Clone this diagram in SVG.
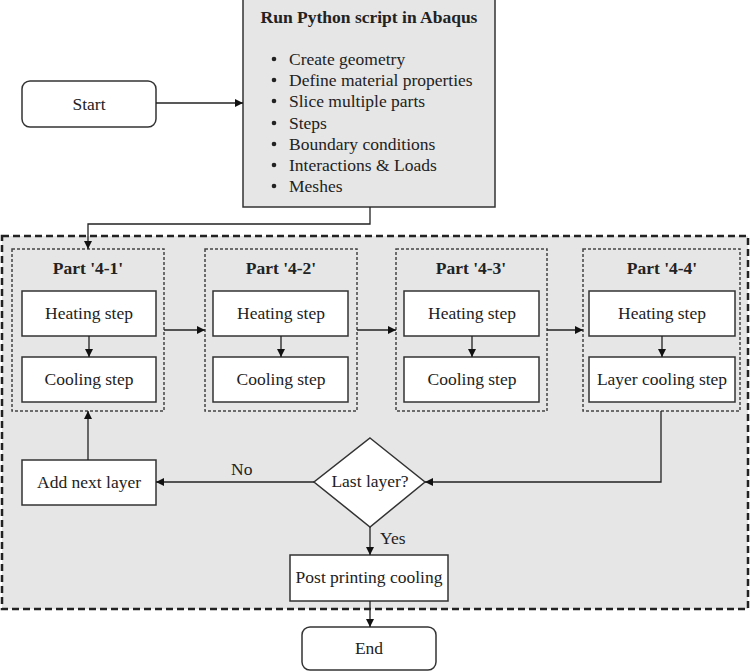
<svg xmlns="http://www.w3.org/2000/svg" width="750" height="672" viewBox="0 0 750 672" font-family="'Liberation Serif', 'DejaVu Serif', serif">
<defs>
<marker id="ah" viewBox="0 0 10 10" refX="10" refY="5" markerWidth="8" markerHeight="8" markerUnits="userSpaceOnUse" orient="auto">
<path d="M0,0 L10,5 L0,10 Z" fill="#111"/>
</marker>
<style>
text{font-family:'Liberation Serif','DejaVu Serif',serif;font-size:17.5px;fill:#222}
.c{text-anchor:middle}
.b{font-weight:bold}
.box{fill:#fff;stroke:#333;stroke-width:1.5}
.part{fill:none;stroke:#444;stroke-width:1.5;stroke-dasharray:3 2}
.ln{fill:none;stroke:#222;stroke-width:1.3}
</style>
</defs>
<rect width="750" height="672" fill="#fff"/>
<g id="container">
<rect x="2" y="236" width="746" height="373" fill="#e6e6e6" stroke="#222" stroke-width="2.5" stroke-dasharray="7 4"/>
</g>
<g id="start">
<rect class="box" x="22" y="81" width="134" height="46" rx="8"/>
<text class="c" x="89" y="110">Start</text>
</g>
<g id="python">
<rect x="243" y="-1" width="252" height="208" fill="#e6e6e6" stroke="#333" stroke-width="1.5"/>
<text class="c b" x="369" y="23">Run Python script in Abaqus</text>
<g>
<circle cx="274" cy="59" r="2.3" fill="#222"/><text x="289" y="65">Create geometry</text>
<circle cx="274" cy="80" r="2.3" fill="#222"/><text x="289" y="86">Define material properties</text>
<circle cx="274" cy="101" r="2.3" fill="#222"/><text x="289" y="107">Slice multiple parts</text>
<circle cx="274" cy="123" r="2.3" fill="#222"/><text x="289" y="129">Steps</text>
<circle cx="274" cy="144" r="2.3" fill="#222"/><text x="289" y="150">Boundary conditions</text>
<circle cx="274" cy="165" r="2.3" fill="#222"/><text x="289" y="171">Interactions &amp; Loads</text>
<circle cx="274" cy="186" r="2.3" fill="#222"/><text x="289" y="192">Meshes</text>
</g>
</g>
<g id="part1">
<rect class="part" x="12" y="249" width="152" height="162"/>
<text class="c b" x="88" y="274">Part '4-1'</text>
<rect class="box" x="22" y="291" width="134" height="45"/>
<text class="c" x="89" y="319">Heating step</text>
<rect class="box" x="22" y="357" width="134" height="45"/>
<text class="c" x="89" y="385">Cooling step</text>
</g>
<g id="part2">
<rect class="part" x="205" y="249" width="152" height="162"/>
<text class="c b" x="281" y="274">Part '4-2'</text>
<rect class="box" x="213" y="291" width="135" height="45"/>
<text class="c" x="281" y="319">Heating step</text>
<rect class="box" x="213" y="357" width="135" height="45"/>
<text class="c" x="281" y="385">Cooling step</text>
</g>
<g id="part3">
<rect class="part" x="396" y="249" width="151" height="162"/>
<text class="c b" x="471" y="274">Part '4-3'</text>
<rect class="box" x="404" y="291" width="135" height="45"/>
<text class="c" x="472" y="319">Heating step</text>
<rect class="box" x="404" y="357" width="135" height="45"/>
<text class="c" x="472" y="385">Cooling step</text>
</g>
<g id="part4">
<rect class="part" x="583" y="249" width="157" height="162"/>
<text class="c b" x="662" y="274">Part '4-4'</text>
<rect class="box" x="589" y="291" width="146" height="45"/>
<text class="c" x="662" y="319">Heating step</text>
<rect class="box" x="589" y="357" width="146" height="45"/>
<text class="c" x="662" y="385">Layer cooling step</text>
</g>
<g id="decision">
<polygon points="370,438 425,482 370,527 314,482" fill="#fff" stroke="#333" stroke-width="1.5"/>
<text class="c" x="370" y="487">Last layer?</text>
</g>
<g id="addlayer">
<rect class="box" x="22" y="460" width="134" height="45"/>
<text class="c" x="89" y="488">Add next layer</text>
</g>
<g id="post">
<rect class="box" x="290" y="555" width="158" height="46"/>
<text class="c" x="369" y="583">Post printing cooling</text>
</g>
<g id="end">
<rect class="box" x="302" y="627" width="134" height="43" rx="8"/>
<text class="c" x="369" y="654">End</text>
</g>
<g id="connectors">
<path class="ln" d="M156,103 H243" marker-end="url(#ah)"/>
<path class="ln" d="M370,207 V224 H88 V249" marker-end="url(#ah)"/>
<path class="ln" d="M89,336 V357" marker-end="url(#ah)"/>
<path class="ln" d="M281,336 V357" marker-end="url(#ah)"/>
<path class="ln" d="M472,336 V357" marker-end="url(#ah)"/>
<path class="ln" d="M662,336 V357" marker-end="url(#ah)"/>
<path class="ln" d="M164,330 H205" marker-end="url(#ah)"/>
<path class="ln" d="M357,330 H396" marker-end="url(#ah)"/>
<path class="ln" d="M547,330 H583" marker-end="url(#ah)"/>
<path class="ln" d="M661,411 V482 H425" marker-end="url(#ah)"/>
<path class="ln" d="M314,482 H156" marker-end="url(#ah)"/>
<path class="ln" d="M88,460 V411" marker-end="url(#ah)"/>
<path class="ln" d="M370,527 V555" marker-end="url(#ah)"/>
<path class="ln" d="M370,601 V627" marker-end="url(#ah)"/>
<text x="231" y="475">No</text>
<text x="380" y="544">Yes</text>
</g>
</svg>
